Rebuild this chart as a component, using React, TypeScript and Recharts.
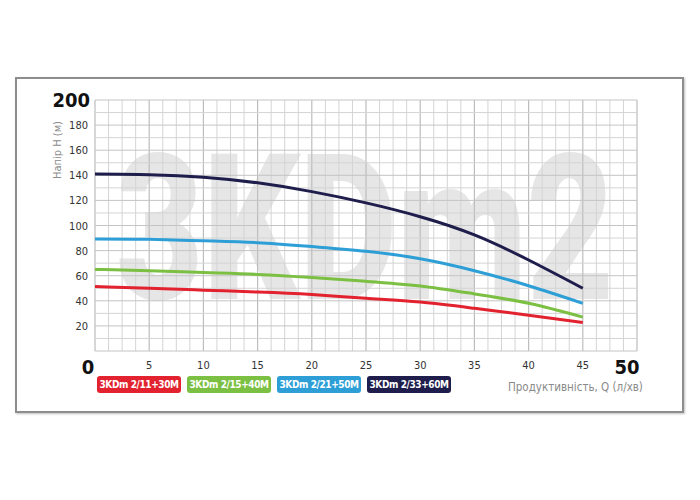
import React from "react";
import { LineChart, Line, XAxis, YAxis, ReferenceLine } from "recharts";

// flow Q (l/min)
const flow = [0, 5, 10, 15, 20, 25, 30, 35, 40, 45];

// head H (m) per pump model
const head11 = [51.3, 50, 48.5, 47, 45, 42, 39, 34, 28.5, 22.7];
const head15 = [65, 64, 62.5, 61, 58.5, 55.5, 51.8, 45.5, 38, 27];
const head21 = [89.3, 89, 87.8, 86.3, 83.2, 79.5, 73.5, 64, 52, 38];
const head33 = [141, 140.5, 138.5, 134, 127, 118, 107, 92.5, 72.5, 50];

const xTicks = [0, 5, 10, 15, 20, 25, 30, 35, 40, 45, 50];
const yTicks = [20, 40, 60, 80, 100, 120, 140, 160, 180, 200];

const models = ["3KDm 2/11+30M", "3KDm 2/15+40M", "3KDm 2/21+50M", "3KDm 2/33+60M"];
const colors = ["#e2232f", "#7bbf43", "#2d9fd6", "#1e1d4b"];

const data = flow.map((q, i) => ({
  q,
  a: head11[i],
  b: head15[i],
  c: head21[i],
  d: head33[i],
}));

// grid: 1.25 l/min columns, 10 m rows
const gridX = Array.from({ length: 41 }, (_, i) => i * 1.25);
const gridY = Array.from({ length: 21 }, (_, i) => i * 10);

const FONT = "'DejaVu Sans Condensed', 'Liberation Sans Narrow', sans-serif";

const XTick = (props: any) => {
  const { x, y, payload } = props;
  const v = payload.value;
  if (v === 0 || v === 50) {
    return (
      <text x={x + (v === 0 ? -7 : -10)} y={y + 15} textAnchor="middle" fontFamily={FONT} fontWeight={700} fontSize={20} fill="#111">
        {v}
      </text>
    );
  }
  return (
    <text x={x} y={y + 10} textAnchor="middle" fontFamily={FONT} fontSize={11} fill="#333">
      {v}
    </text>
  );
};

const YTick = (props: any) => {
  const { x, y, payload } = props;
  const v = payload.value;
  if (v === 200) {
    return (
      <text x={x + 3} y={y + 7} textAnchor="end" fontFamily={FONT} fontWeight={700} fontSize={20} fill="#111">
        {v}
      </text>
    );
  }
  return (
    <text x={x + 1} y={y + 4} textAnchor="end" fontFamily={FONT} fontSize={11} fill="#333">
      {v}
    </text>
  );
};

export default function App() {
  return (
    <div style={{ position: "absolute", left: 0, top: 0, width: 700, height: 500, background: "#fff", fontFamily: FONT }}>
      {/* frame */}
      <div
        style={{
          position: "absolute",
          left: 15,
          top: 77,
          width: 665,
          height: 332,
          border: "2px solid #8d8d8d",
          boxShadow: "1px 1px 2px rgba(0,0,0,0.25)",
        }}
      />
      {/* watermark */}
      <svg width={700} height={500} style={{ position: "absolute", left: 0, top: 0 }}>
        <text
          x={116}
          y={299}
          fontFamily="Roboto, Inter, sans-serif"
          fontWeight={900}
          fontSize={205}
          fill="#e6e6e6"
          textLength={498}
          lengthAdjust="spacingAndGlyphs"
        >
          3KDm2
        </text>
        <text
          x={61}
          y={150}
          transform="rotate(-90 61 150)"
          textAnchor="middle"
          fontFamily={FONT}
          fontSize={11}
          fill="#8a8a8a"
        >
          Напір Н (м)
        </text>
      </svg>
      <div style={{ position: "absolute", left: 0, top: 0 }}>
        <LineChart width={700} height={500} data={data} margin={{ top: 100, right: 63, left: 35, bottom: 119 }}>
          <XAxis
            dataKey="q"
            type="number"
            domain={[0, 50]}
            ticks={xTicks}
            axisLine={false}
            tickLine={false}
            height={30}
            tick={<XTick />}
            interval={0}
          />
          <YAxis
            type="number"
            domain={[0, 200]}
            ticks={yTicks}
            axisLine={false}
            tickLine={false}
            width={60}
            tick={<YTick />}
            interval={0}
          />
          {gridX.map((v) => (
            <ReferenceLine
              key={"x" + v}
              x={v}
              stroke={v % 5 === 0 ? "#bdbdbd" : "#d4d4d4"}
              strokeWidth={v % 5 === 0 ? 1.2 : 1}
            />
          ))}
          {gridY.map((v) => (
            <ReferenceLine
              key={"y" + v}
              y={v}
              stroke={v % 20 === 0 ? "#c4c4c4" : "#d4d4d4"}
              strokeWidth={1}
            />
          ))}
          <Line type="natural" dataKey="a" stroke={colors[0]} strokeWidth={3} dot={false} isAnimationActive={false} />
          <Line type="natural" dataKey="b" stroke={colors[1]} strokeWidth={3} dot={false} isAnimationActive={false} />
          <Line type="natural" dataKey="c" stroke={colors[2]} strokeWidth={3} dot={false} isAnimationActive={false} />
          <Line type="natural" dataKey="d" stroke={colors[3]} strokeWidth={3} dot={false} isAnimationActive={false} />
        </LineChart>
      </div>
      {/* legend */}
      <div style={{ position: "absolute", left: 97, top: 376, display: "flex", gap: 6 }}>
        {models.map((m, i) => (
          <div
            key={m}
            style={{
              background: colors[i],
              color: "#fff",
              borderRadius: 3,
              width: 84,
              height: 17,
              lineHeight: "17px",
              textAlign: "center",
              fontSize: 10,
              letterSpacing: -0.4,
              fontWeight: 700,
              whiteSpace: "nowrap",
              overflow: "hidden",
            }}
          >
            {m}
          </div>
        ))}
      </div>
      <div style={{ position: "absolute", left: 508, top: 380, fontSize: 11.5, color: "#8a8a8a", whiteSpace: "nowrap" }}>
        Продуктивність, Q (л/хв)
      </div>
    </div>
  );
}
